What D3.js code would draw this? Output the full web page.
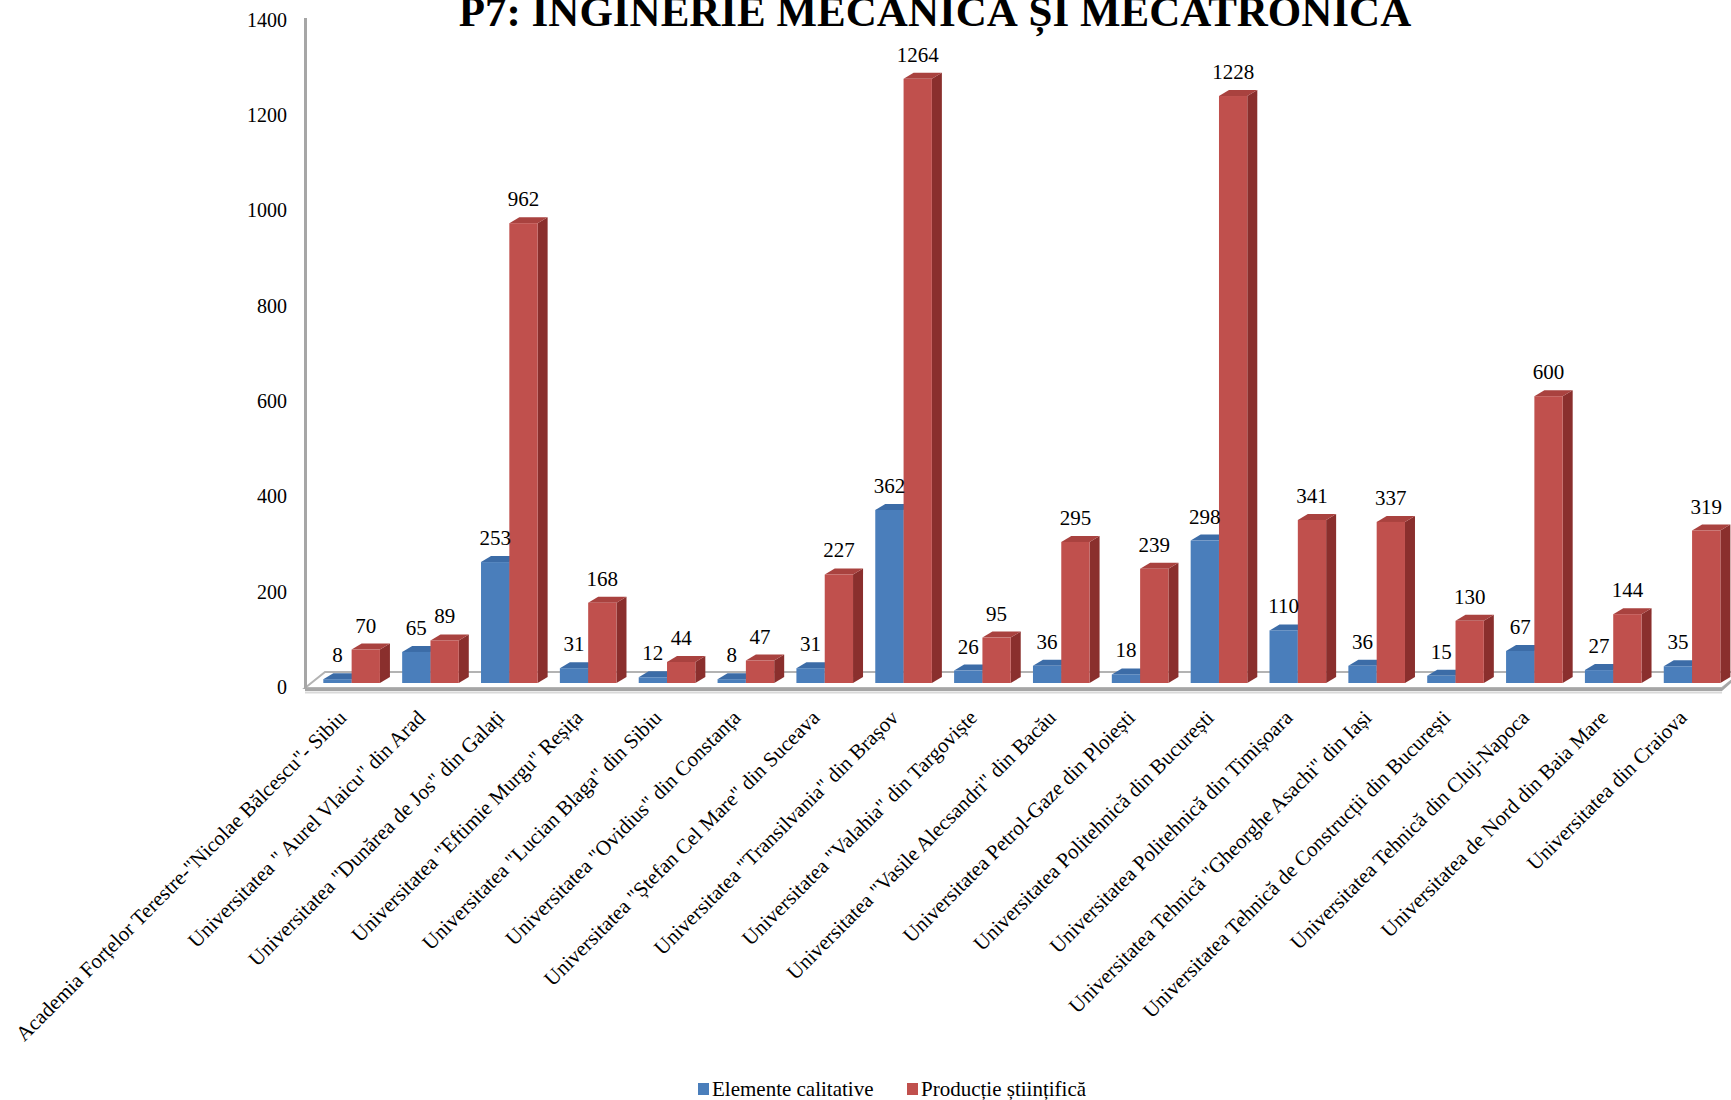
<!DOCTYPE html>
<html>
<head>
<meta charset="utf-8">
<script src="https://cdn.jsdelivr.net/npm/d3@7"></script>
<style>
  html, body { margin: 0; padding: 0; background: #ffffff; }
  svg { display: block; }
  svg text { font-family: "Liberation Serif", "Times New Roman", serif; fill: #000; }
</style>
</head>
<body>
<svg id="chart" width="1731" height="1100"></svg>
<script>
const title = "P7: INGINERIE MECANICĂ ȘI MECATRONICĂ";
const categories = [
  "Academia Forțelor Terestre-\"Nicolae Bălcescu\"- Sibiu",
  "Universitatea \" Aurel Vlaicu\" din Arad",
  "Universitatea \"Dunărea de Jos\" din Galați",
  "Universitatea \"Eftimie Murgu\" Reșița",
  "Universitatea \"Lucian Blaga\" din Sibiu",
  "Universitatea \"Ovidius\" din Constanța",
  "Universitatea \"Ștefan Cel Mare\" din Suceava",
  "Universitatea \"Transilvania\" din Brașov",
  "Universitatea \"Valahia\" din Targoviște",
  "Universitatea \"Vasile Alecsandri\" din Bacău",
  "Universitatea Petrol-Gaze din Ploiești",
  "Universitatea Politehnică din București",
  "Universitatea Politehnică din Timișoara",
  "Universitatea Tehnică \"Gheorghe Asachi\" din Iași",
  "Universitatea Tehnică de Construcții din București",
  "Universitatea Tehnică din Cluj-Napoca",
  "Universitatea de Nord din Baia Mare",
  "Universitatea din Craiova"
];
const seriesNames = ["Elemente calitative", "Producție științifică"];
const elementeCalitative = [8, 65, 253, 31, 12, 8, 31, 362, 26, 36, 18, 298, 110, 36, 15, 67, 27, 35];
const productieStiintifica = [70, 89, 962, 168, 44, 47, 227, 1264, 95, 295, 239, 1228, 341, 337, 130, 600, 144, 319];
const yTicks = [0, 200, 400, 600, 800, 1000, 1200, 1400];

const seriesValues = [elementeCalitative, productieStiintifica];
const colors = [
  { front: "#4a7ebb", top: "#3c6ca7", side: "#335d92" },
  { front: "#c0504d", top: "#a9423f", side: "#8a2f2d" }
];
const serif = "'Liberation Serif', 'Times New Roman', serif";

const svg = d3.select("#chart");

// Scales
const baseY = 683;
const y = d3.scaleLinear().domain([0, 1400]).range([baseY, baseY - 1400 * 0.478]);
const yLab = d3.scaleLinear().domain([0, 1400]).range([687, 20]);
const x0 = d3.scaleBand().domain(categories).range([312.2, 1731.5]).paddingInner(0.282).paddingOuter(0.141);
const x1 = d3.scaleBand().domain(seriesNames).range([0, x0.bandwidth()]);
const dx = 10, dy = 6;

// Title
svg.append("text")
  .attr("x", 935).attr("y", 26)
  .attr("text-anchor", "middle")
  .attr("font-family", serif)
  .attr("font-size", 43).attr("font-weight", "bold")
  .text(title);

// Floor
const floorG = svg.append("g");
const fl = { fx0: 305, fx1: 1722, fy: 688, bx0: 325, bx1: 1742, by: 672 };
floorG.append("polygon")
  .attr("points", `${fl.fx0},${fl.fy} ${fl.fx1},${fl.fy} ${fl.bx1},${fl.by} ${fl.bx0},${fl.by}`)
  .attr("fill", "#ffffff").attr("stroke", "#b3b3b3").attr("stroke-width", 2);
floorG.append("polygon")
  .attr("points", `${fl.fx0},${fl.fy} ${fl.fx1},${fl.fy} ${fl.fx1+9},${fl.fy-8} ${fl.fx1+9},${fl.fy-5} ${fl.fx1},${fl.fy+3} ${fl.fx0},${fl.fy+3}`)
  .attr("fill", "#a6a6a6");
floorG.append("line")
  .attr("x1", fl.fx0).attr("x2", fl.fx1).attr("y1", fl.fy + 4.5).attr("y2", fl.fy + 4.5)
  .attr("stroke", "#d9d9d9").attr("stroke-width", 2);

// Vertical axis line
svg.append("line")
  .attr("x1", 305.5).attr("y1", 18).attr("x2", 305.5).attr("y2", 689)
  .attr("stroke", "#a6a6a6").attr("stroke-width", 3);

// Y axis labels
const yAxis = d3.axisLeft(yLab).tickValues(yTicks).tickSize(0).tickPadding(0).tickFormat(d3.format("d"));
const yg = svg.append("g").attr("transform", "translate(287,0)").call(yAxis);
yg.select(".domain").remove();
yg.attr("font-family", serif).attr("font-size", 20);
yg.selectAll("text").attr("font-family", serif).attr("font-size", 20).attr("fill", "#000");

// Bars
const barsG = svg.append("g");
const labelsG = svg.append("g").attr("font-family", serif);
categories.forEach((cat, i) => {
  seriesNames.forEach((s, k) => {
    const v = seriesValues[k][i];
    const bx = x0(cat) + x1(s);
    const w = x1.bandwidth();
    const yt = y(v);
    const c = colors[k];
    const g = barsG.append("g");
    g.append("polygon")
      .attr("points", `${bx+w},${yt} ${bx+w+dx},${yt-dy} ${bx+w+dx},${baseY-dy} ${bx+w},${baseY}`)
      .attr("fill", c.side);
    g.append("polygon")
      .attr("points", `${bx},${yt} ${bx+w},${yt} ${bx+w+dx},${yt-dy} ${bx+dx},${yt-dy}`)
      .attr("fill", c.top);
    g.append("rect")
      .attr("x", bx).attr("y", yt).attr("width", w).attr("height", baseY - yt)
      .attr("fill", c.front);
    labelsG.append("text")
      .attr("x", bx + w / 2).attr("y", yt - 17)
      .attr("text-anchor", "middle")
      .attr("font-family", serif)
      .attr("font-size", 21)
      .text(v);
  });
});

// Category labels
const xg = svg.append("g");
categories.forEach(cat => {
  const cx = x0(cat) + x0.bandwidth() / 2;
  xg.append("text")
    .attr("transform", `translate(${cx - 4},${719}) rotate(-45)`)
    .attr("text-anchor", "end")
    .attr("font-family", serif)
    .attr("font-size", 21)
    .text(cat);
});

// Legend
const legend = svg.append("g");
const legendItems = [
  { name: seriesNames[0], x: 698, color: colors[0].front },
  { name: seriesNames[1], x: 907, color: colors[1].front }
];
legendItems.forEach(it => {
  legend.append("rect").attr("x", it.x).attr("y", 1083).attr("width", 11).attr("height", 12).attr("fill", it.color);
  legend.append("text").attr("x", it.x + 14).attr("y", 1096)
    .attr("font-family", serif).attr("font-size", 21).text(it.name);
});
</script>
</body>
</html>
